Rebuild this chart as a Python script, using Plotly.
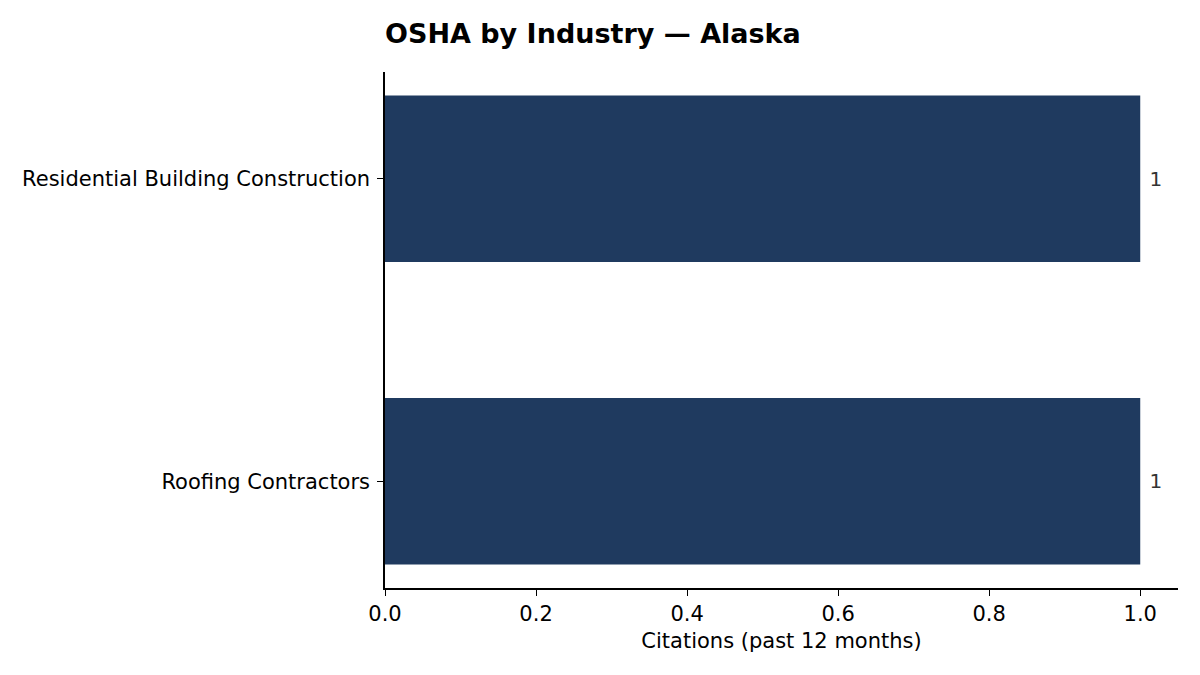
"""OSHA citations by industry, Alaska"""

import plotly.graph_objects as go

industries = ["Roofing Contractors", "Residential Building Construction"]
citations = [1, 1]
x_ticks = [0.0, 0.2, 0.4, 0.6, 0.8, 1.0]

bar_color = "#1f3a5f"
font = "DejaVu Sans"

# page body has an 8px margin, so offsets below are 8px less than the target
fig = go.Figure(go.Bar(
    x=citations,
    y=industries,
    orientation="h",
    width=0.55,
    marker={"color": bar_color, "line": {"width": 0}},
    text=[" " + str(v) for v in citations],
    textposition="outside",
    textfont={"size": 20, "color": "#333333", "family": font},
    cliponaxis=False,
))

fig.update_layout(
    width=1200,
    height=675,
    paper_bgcolor="white",
    plot_bgcolor="white",
    margin={"l": 377, "r": 30, "t": 64, "b": 95},
    font={"family": font, "size": 21, "color": "black"},
    title={"text": "<b>OSHA by Industry — Alaska</b>",
           "x": 377 / 1200, "xanchor": "left",
           "y": 1 - 26 / 675, "yanchor": "middle",
           "font": {"size": 27, "family": font}},
    showlegend=False,
    bargap=0.45,
)
fig.update_xaxes(
    range=[0, 1.05],
    tickvals=x_ticks,
    ticktext=[f"{t:.1f}" for t in x_ticks],
    ticks="outside", ticklen=6, tickcolor="black", tickwidth=1.3,
    showline=True, linecolor="black", linewidth=1.5,
    showgrid=False, zeroline=False,
    title={"text": "Citations (past 12 months)", "standoff": 8,
           "font": {"size": 21}},
    tickfont={"size": 21},
)
fig.update_yaxes(
    range=[-0.3525, 1.3525],
    ticks="outside", ticklen=6, tickcolor="black", tickwidth=1.3,
    showline=True, linecolor="black", linewidth=1.5,
    showgrid=False, zeroline=False,
    ticklabelstandoff=3,
    tickfont={"size": 21},
)

fig.write_html("out.html")
